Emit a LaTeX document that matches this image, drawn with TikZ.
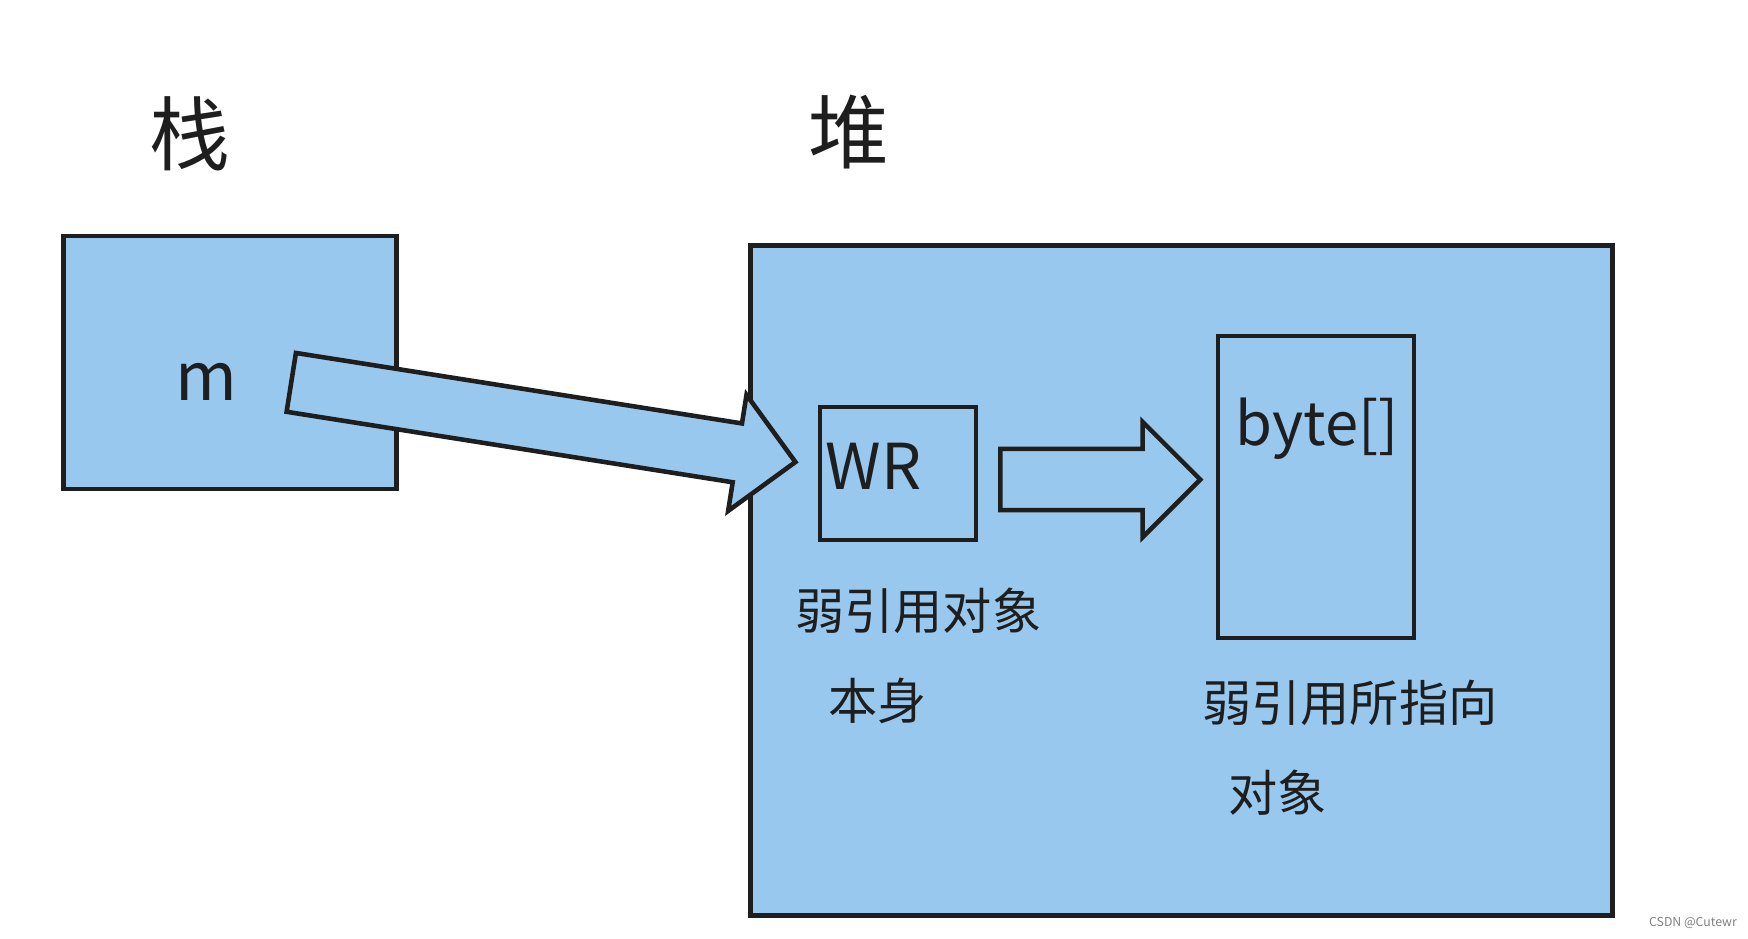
\documentclass[tikz,border=0pt]{standalone}
\usepackage{fontspec}
\usepackage{xcolor}
\usepackage{tikz}
\usetikzlibrary{shapes, shapes.arrows, positioning, calc}
\newfontfamily\cjkfont{Noto Sans CJK SC}
\definecolor{memblue}{RGB}{153,200,238}
\definecolor{ink}{RGB}{30,30,30}

\begin{document}
\begin{tikzpicture}[x=0.02cm, y=-0.02cm, every node/.style={font=\cjkfont, text=ink, inner sep=0pt},
  membox/.style={draw=ink, fill=memblue, line width=2.8pt, rectangle},
  objbox/.style={draw=ink, line width=2.2pt, rectangle},
  fatarrow/.style={draw=ink, fill=memblue, line width=2.6pt, single arrow, single arrow head indent=0pt, inner xsep=0pt, anchor=tail},
  title/.style={font=\cjkfont\fontsize{46}{46}\selectfont},
  note/.style={font=\cjkfont\fontsize{28}{51}\selectfont, align=left, anchor=north west}]

\useasboundingbox (0,0) rectangle (1748,938);

% Heap
\node (heap) at (1181.5,580.5) [membox, minimum width=17.26cm, minimum height=13.42cm] {};
\node (heaptitle) at (849,132) [title] {堆};

% Stack
\node (stack) at (230,362.5) [membox, minimum width=6.67cm, minimum height=5.06cm] {};
\node (stacktitle) at (190,134) [title] {栈};
\node (m) at (206,382) [font=\cjkfont\fontsize{38}{38}\selectfont] {m};

% Objects in the heap
\node (wr) at (898,473.5) [objbox, minimum width=3.12cm, minimum height=2.66cm] {};
\node (wrtext) at (873.5,466.7) [font=\cjkfont\fontsize{36}{36}\selectfont] {WR};
\node (bytearr) at (1316,487) [objbox, minimum width=3.92cm, minimum height=6.04cm] {};
\node (bytetext) at (1317,429) [font=\cjkfont\fontsize{34}{34}\selectfont] {byte[]};

% Labels
\node (wrnote) at (795,588) [note] {弱引用对象\\\hspace{0.66cm}本身};
\node (bytenote) at (1202,680) [note] {弱引用所指向\\\hspace{0.52cm}对象};

% Arrows
\coordinate (reftail) at (289,382);
\node (ref) at (reftail) [fatarrow, rotate=-8.98, inner ysep=0.55cm, minimum height=10.21cm, single arrow head extend=0.58cm] {};

\coordinate (ptrtail) at (998,479.5);
\node (ptr) at (ptrtail) [fatarrow, inner ysep=0.566cm, minimum height=4cm, single arrow head extend=0.54cm] {};

% Watermark
\node (mark) at (1693,923) [font=\cjkfont\fontsize{7}{7}\selectfont, text=gray] {CSDN @Cutewr};

\end{tikzpicture}
\end{document}
